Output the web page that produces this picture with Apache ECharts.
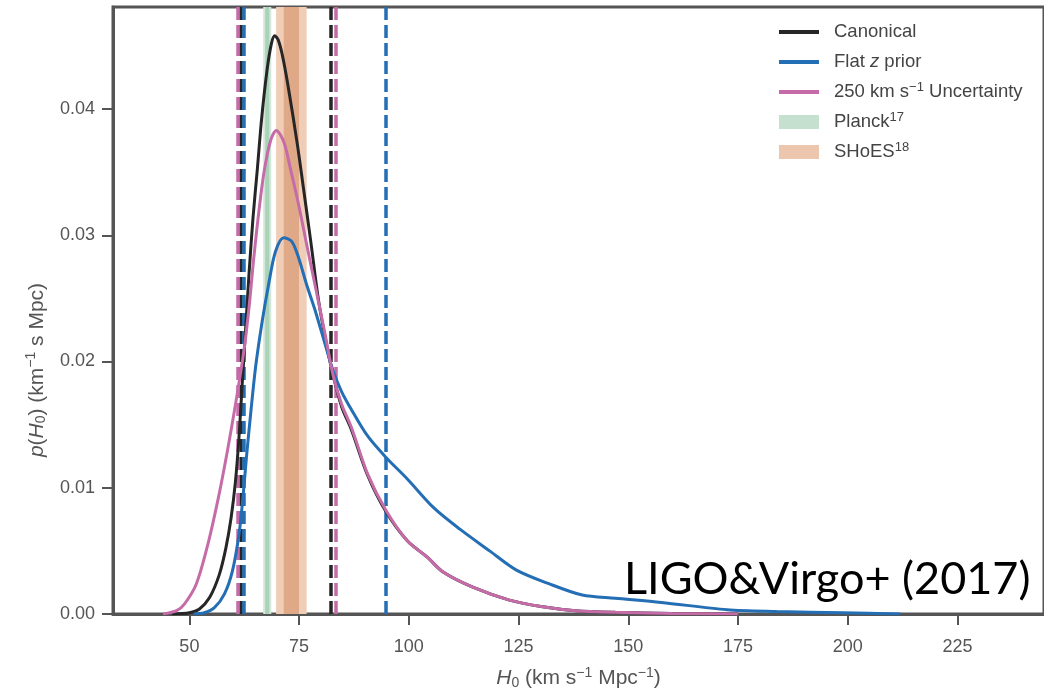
<!DOCTYPE html>
<html><head><meta charset="utf-8">
<script src="https://cdn.jsdelivr.net/npm/echarts@6/dist/echarts.min.js"></script>
<style>html,body{margin:0;padding:0;background:#fff}#c{width:1044px;height:695px}</style>
</head><body><div id="c"></div>
<script>
// ---- data ----
const xTicks = [50, 75, 100, 125, 150, 175, 200, 225];
const yTicks = [0, 0.01, 0.02, 0.03, 0.04];

const canonicalH = [46, 50, 52.3, 54.6, 56.8, 58.3, 59.5, 60.5, 61.3, 62.0, 62.8, 63.6, 64.5, 65.5, 66.45, 67.7, 68.7, 69.45, 70.2, 71.1, 72.4, 74.6, 76.0, 77.7, 79.4, 81.2, 82.75, 84.7, 86.9, 90.6, 94.8, 99.65, 104.2, 107.9, 114.7, 122.9, 130.5, 138, 147, 160, 175];
const canonicalP = [0, 0.0001, 0.0004, 0.0013, 0.0031, 0.0052, 0.0076, 0.0105, 0.0140, 0.0180, 0.0225, 0.0270, 0.0314, 0.0353, 0.0392, 0.0431, 0.0452, 0.0458, 0.0455, 0.0444, 0.0420, 0.0372, 0.0337, 0.0294, 0.0249, 0.0214, 0.0189, 0.0164, 0.0146, 0.0110, 0.0081, 0.0058, 0.0045, 0.0033, 0.0021, 0.0011, 0.00057, 0.00026, 0.00013, 0.00004, 0];

const flatH = [51, 53.4, 55.7, 58.0, 59.8, 61.3, 62.2, 63.0, 64.0, 65.1, 66.6, 68.1, 69.6, 71.5, 73.35, 74.9, 76.7, 78.6, 80.9, 82.8, 84.7, 86.9, 90.6, 94.8, 99.65, 105.7, 111.7, 118.4, 124.4, 131.9, 139.5, 147, 157.5, 172.5, 183.8, 198.8, 212];
const flatP = [0, 0.0001, 0.0005, 0.0016, 0.0034, 0.0063, 0.0092, 0.0124, 0.0160, 0.0196, 0.0232, 0.0262, 0.0287, 0.0298, 0.0295, 0.0282, 0.0261, 0.0241, 0.0214, 0.0192, 0.0176, 0.0162, 0.0141, 0.0124, 0.0107, 0.0084, 0.0067, 0.0050, 0.0035, 0.0024, 0.0015, 0.00125, 0.00092, 0.00034, 0.0002, 0.0001, 0];

const pecH = [44, 47.1, 48.9, 51.6, 54.2, 56.6, 58.6, 60.6, 62.4, 63.6, 64.7, 65.8, 67.0, 68.5, 69.8, 71.5, 73.0, 74.9, 76.7, 78.6, 80.9, 82.75, 84.7, 86.9, 90.6, 94.8, 99.65, 104.2, 107.9, 114.7, 122.9, 130.5, 138, 147, 160, 175];
const pecP = [0, 0.00026, 0.0008, 0.0024, 0.0055, 0.0092, 0.0128, 0.0168, 0.0208, 0.0243, 0.0283, 0.0318, 0.0350, 0.0375, 0.0383, 0.0374, 0.0353, 0.0324, 0.0293, 0.0261, 0.0222, 0.0189, 0.0166, 0.0148, 0.0111, 0.0082, 0.0058, 0.0045, 0.0033, 0.0021, 0.0011, 0.00057, 0.00026, 0.00013, 0.00004, 0];

// credible-interval bounds (dashed lines)
const canonicalBounds = [61.7, 82.2];
const flatBounds = [62.3, 94.7];
const pecBounds = [61.0, 83.4];

// external measurements (1 sigma, 2 sigma bands)
const planck1s = [67.28, 68.20];
const planck2s = [66.82, 68.66];
const shoes1s = [71.50, 74.98];
const shoes2s = [69.76, 76.72];

const xRange = [32.6, 244.7];
const yRange = [0, 0.04808];

// ---- chart ----
const C_BLACK = '#262626', C_BLUE = '#236eb4', C_PINK = '#c56ca8';
const AX = '#555555';
const FONT = '"Liberation Sans", Arial, sans-serif';

const pairs = (h, p) => h.map((v, i) => [v, p[i]]);
const vlines = (b) => b.map(v => ({ xAxis: v }));

const legendText = {
  'Canonical': 'Canonical',
  'Flat z prior': 'Flat {i|z} prior',
  '250 km s−1 Uncertainty': '250 km s{sup|−1} Uncertainty',
  'Planck': 'Planck{sup|17}',
  'SHoES': 'SHoES{sup|18}'
};

function curve(name, color, h, p, bounds) {
  return {
    name, type: 'line', z: 3, showSymbol: false, symbol: 'none',
    smooth: 0.3,
    data: pairs(h, p),
    lineStyle: { color, width: 3 }, itemStyle: { color },
    markLine: {
      silent: true, symbol: 'none', z: 2, animation: false,
      label: { show: false },
      lineStyle: { color, width: 3.5, type: [13, 5], opacity: 1 },
      emphasis: { disabled: true },
      data: vlines(bounds)
    }
  };
}
function band(name, legendColor, outer, inner, cOuter, cInner) {
  return {
    name, type: 'line', z: 1, data: [], symbol: 'none',
    lineStyle: { color: legendColor }, itemStyle: { color: legendColor },
    markArea: {
      silent: true, animation: false,
      data: [
        [{ xAxis: outer[0], itemStyle: { color: cOuter } }, { xAxis: outer[1] }],
        [{ xAxis: inner[0], itemStyle: { color: cInner } }, { xAxis: inner[1] }]
      ]
    }
  };
}

const TS = 21;
const titleRich = {
  i: { fontStyle: 'italic', fontSize: TS, fontFamily: FONT, color: AX },
  sub: { fontSize: 14, fontFamily: FONT, color: AX, padding: [9, 0, 0, 0] },
  sup: { fontSize: 14, fontFamily: FONT, color: AX, padding: [0, 0, 11, 0] }
};

const chart = echarts.init(document.getElementById('c'), null, { renderer: 'canvas' });
chart.setOption({
  animation: false,
  backgroundColor: '#ffffff',
  grid: { left: 113, top: 7, right: -10, bottom: 75, show: true, borderColor: AX, borderWidth: 3, backgroundColor: 'transparent' },
  xAxis: {
    type: 'value', min: xRange[0], max: xRange[1],
    splitLine: { show: false },
    axisLine: { show: true, lineStyle: { color: AX, width: 3 } },
    axisTick: { show: true, customValues: xTicks, length: 11, lineStyle: { color: AX, width: 2 } },
    axisLabel: { customValues: xTicks, margin: 24, color: AX, fontSize: 18, fontFamily: FONT },
    name: '{i|H}{sub|0} (km s{sup|−1} Mpc{sup|−1})',
    nameLocation: 'middle', nameGap: 52,
    nameTextStyle: { color: AX, fontSize: TS, fontFamily: FONT, rich: titleRich }
  },
  yAxis: {
    type: 'value', min: yRange[0], max: yRange[1],
    splitLine: { show: false },
    axisLine: { show: true, lineStyle: { color: AX, width: 3 } },
    axisTick: { show: true, customValues: yTicks, length: 11, lineStyle: { color: AX, width: 2 } },
    axisLabel: { customValues: yTicks, margin: 18, color: AX, fontSize: 18, fontFamily: FONT, formatter: v => v.toFixed(2) }
  },
  legend: {
    left: 772, top: 16, orient: 'vertical', itemWidth: 40, itemHeight: 14, itemGap: 8,
    selectedMode: false,
    itemStyle: { opacity: 0 },
    lineStyle: { width: 4 },
    data: [
      { name: 'Canonical' }, { name: 'Flat z prior' }, { name: '250 km s−1 Uncertainty' },
      { name: 'Planck', icon: 'rect', itemStyle: { opacity: 1 } },
      { name: 'SHoES', icon: 'rect', itemStyle: { opacity: 1 } }
    ],
    formatter: n => legendText[n],
    textStyle: {
      color: '#444', fontSize: 18.5, fontFamily: FONT, lineHeight: 22, padding: [0, 0, 0, 10],
      rich: {
        i: { fontStyle: 'italic', fontSize: 18.5, fontFamily: FONT, color: '#444', lineHeight: 22 },
        sup: { fontSize: 13, fontFamily: FONT, color: '#444', padding: [0, 0, 9, 0] }
      }
    }
  },
  series: [
    band('Planck', '#c6e0cf', planck2s, planck1s, '#d3e8da', '#a9d2b7'),
    band('SHoES', '#ecc6ad', shoes2s, shoes1s, '#f0cdb6', '#dfa887'),
    curve('Canonical', C_BLACK, canonicalH, canonicalP, canonicalBounds),
    curve('Flat z prior', C_BLUE, flatH, flatP, flatBounds),
    curve('250 km s−1 Uncertainty', C_PINK, pecH, pecP, pecBounds)
  ],
  graphic: [
    {
      type: 'text', x: 37, y: 370, rotation: Math.PI / 2, z: 10,
      style: {
        text: '{i|p}({i|H}{sub|0}) (km{sup|−1} s Mpc)',
        font: TS + 'px ' + FONT, fill: AX, align: 'center', verticalAlign: 'middle',
        rich: titleRich
      }
    },
    {
      type: 'text', left: 624, top: 557, z: 10,
      style: { text: 'LIGO&Virgo+ (2017)', font: '45px Lato, "Open Sans", sans-serif', fill: '#000' }
    }
  ]
});
</script></body></html>
